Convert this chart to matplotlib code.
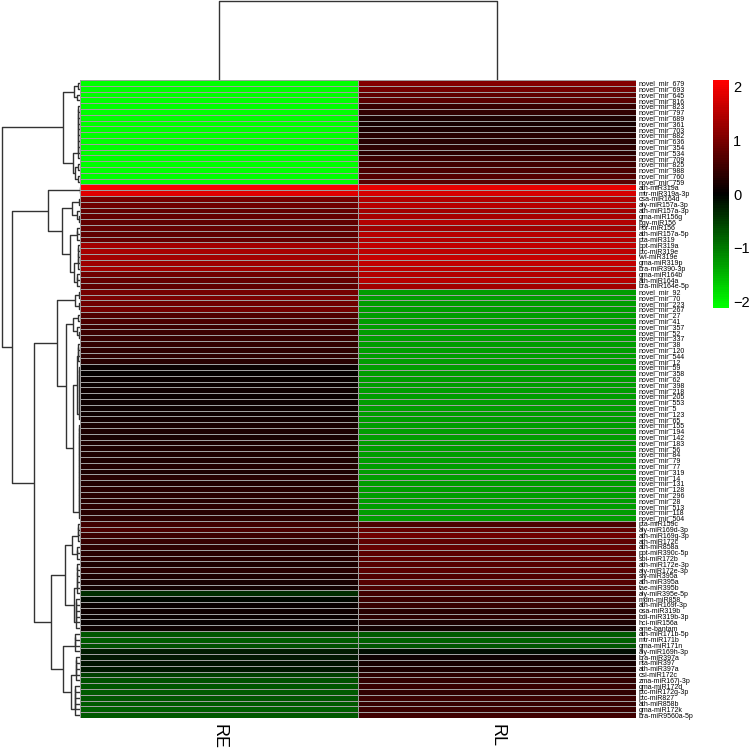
import numpy as np
import matplotlib
matplotlib.use("Agg")
import matplotlib.pyplot as plt
from matplotlib.colors import LinearSegmentedColormap

plt.rcParams["font.family"] = ["Liberation Sans", "DejaVu Sans"]

# ── data ─────────────────────────────────────────────
samples = ["RE", "RL"]

row_labels = [
    # block 1
    "novel_mir_679", "novel_mir_693", "novel_mir_645", "novel_mir_816", "novel_mir_823",
    "novel_mir_797", "novel_mir_689", "novel_mir_361", "novel_mir_703", "novel_mir_882",
    "novel_mir_636", "novel_mir_354", "novel_mir_534", "novel_mir_709", "novel_mir_825",
    "novel_mir_988", "novel_mir_760", "novel_mir_759",
    # block 2
    "ath-miR319a", "mtr-miR319a-3p", "csa-miR164d", "aly-miR157a-3p", "ath-miR157a-3p",
    "gma-miR156g", "bgy-miR156", "hbr-miR156", "ath-miR157a-5p", "pta-miR319",
    "ppt-miR319a", "ptc-miR319e", "vvi-miR319e", "gma-miR319p", "bra-miR390-3p",
    "gma-miR164b", "ath-miR164a", "bra-miR164e-5p",
    # block 3
    "novel_mir_92", "novel_mir_70", "novel_mir_223", "novel_mir_267", "novel_mir_27",
    "novel_mir_41", "novel_mir_357", "novel_mir_52", "novel_mir_337", "novel_mir_38",
    "novel_mir_120", "novel_mir_544", "novel_mir_12", "novel_mir_59", "novel_mir_358",
    "novel_mir_62", "novel_mir_398", "novel_mir_218", "novel_mir_205", "novel_mir_553",
    "novel_mir_5", "novel_mir_123", "novel_mir_65", "novel_mir_155", "novel_mir_194",
    "novel_mir_142", "novel_mir_183", "novel_mir_56", "novel_mir_84", "novel_mir_79",
    "novel_mir_77", "novel_mir_319", "novel_mir_14", "novel_mir_131", "novel_mir_128",
    "novel_mir_296", "novel_mir_28", "novel_mir_513", "novel_mir_118", "novel_mir_504",
    # block 4
    "pta-miR159c", "aly-miR169d-3p", "ath-miR169g-3p", "ath-miR172c", "ath-miR858a",
    "ppt-miR390c-5p", "sbi-miR172b", "ath-miR172e-3p", "aly-miR172e-3p", "sly-miR395a",
    "ath-miR395a", "tae-miR395b", "aly-miR395e-5p", "mdm-miR858", "ath-miR169f-3p",
    "osa-miR319b", "bdi-miR319b-3p", "hci-miR156a", "ame-bantam", "ath-miR171b-5p",
    "mtr-miR171b", "gma-miR171n", "aly-miR169h-3p", "bra-miR397a", "nta-miR397",
    "ath-miR397a", "csi-miR172c", "zma-miR167j-3p", "gma-miR172d", "ptc-miR172g-3p",
    "ptc-miR827", "ath-miR858b", "gma-miR172k", "bra-miR9560a-5p",
]

re_values = [
    # block 1
    -2.1, -2.1, -2.1, -2.1, -2.1, -2.1, -2.1, -2.1, -2.1, -2.1,
    -2.1, -2.1, -2.1, -2.1, -2.1, -2.1, -2.1, -2.1,
    # block 2
    2.05, 1.85, 0.95, 0.9, 0.85, 0.85, 0.8, 0.85, 0.8, 0.85,
    1.35, 1.4, 1.35, 1.3, 1.35, 0.9, 0.85, 0.8,
    # block 3
    0.95, 1.0, 0.9, 0.95, 0.65, 0.6, 0.5, 0.48, 0.45, 0.4,
    0.35, 0.35, 0.3, 0.05, 0.02, 0.08, 0.05, 0.1, 0.06, 0.1,
    0.12, 0.1, 0.15, 0.2, 0.22, 0.2, 0.25, 0.22, 0.25, 0.25,
    0.28, 0.25, 0.3, 0.28, 0.3, 0.32, 0.3, 0.35, 0.3, 0.35,
    # block 4
    0.55, 0.6, 0.5, 0.45, 0.35, 0.3, 0.3, 0.25, 0.3, 0.25,
    0.2, 0.15, -0.35, -0.05, 0.05, 0.1, 0.08, 0.05, 0.1, -0.7,
    -0.75, -0.65, -0.25, -0.2, -0.15, -0.2, -0.55, -0.65, -0.7, -0.75,
    -0.7, -0.75, -0.8, -0.75,
]

rl_values = [
    # block 1
    1.1, 0.95, 0.8, 0.75, 0.45, 0.4, 0.25, 0.2, 0.22, 0.3,
    0.32, 0.35, 0.38, 0.5, 0.55, 0.6, 0.7, 0.75,
    # block 2
    1.95, 1.75, 1.45, 1.5, 1.35, 1.4, 1.45, 1.3, 1.5, 1.45,
    1.6, 1.55, 1.65, 1.6, 1.55, 1.45, 1.5, 1.35,
    # block 3
    -1.3, -1.3, -1.3, -1.3, -1.3, -1.3, -1.3, -1.3, -1.3, -1.3,
    -1.3, -1.3, -1.3, -1.3, -1.3, -1.3, -1.3, -1.3, -1.3, -1.3,
    -1.3, -1.3, -1.3, -1.3, -1.3, -1.3, -1.3, -1.3, -1.3, -1.3,
    -1.3, -1.3, -1.3, -1.3, -1.3, -1.3, -1.3, -1.3, -1.3, -1.3,
    # block 4
    0.6, 0.85, 0.9, 0.8, 0.85, 0.75, 0.8, 0.7, 0.75, 0.65,
    0.7, 0.6, 0.55, 0.5, 0.45, 0.3, 0.35, 0.25, 0.15, -0.75,
    -0.8, -0.7, -0.1, 0.1, 0.2, 0.25, 0.35, 0.4, 0.45, 0.4,
    0.5, 0.45, 0.5, 0.55,
]

cbar_ticks = [-2, -1, 0, 1, 2]


# ── row tree (merge height, left, right); ints are rows ──
def chain(a, b, h):
    node = a
    for i in range(a + 1, b):
        node = (h, node, i)
    return node


g1 = (17, (6, (2, 0, 1), (3, 2, 3)),
      (7, chain(4, 14, 2), (5, (2, 14, 15), (2, 16, 17))))
g2 = (32, (0.5, 18, 19),
      (18, (8, (1, 20, 21), (3, 22, (1, 23, 24))),
       (10, chain(25, 28, 3), (6, chain(28, 33, 2), chain(33, 36, 3)))))
g3 = (23, (5, (1, 36, 37), (1, 38, 39)),
      (14, (7, (2, 40, 41), (3, 42, (1, 43, 44))),
       (7, (3, chain(45, 49, 2), chain(49, 59, 1)), chain(59, 76, 1))))
g4 = (29, (15, (8, chain(76, 80, 2), chain(80, 83, 3)),
           (6, chain(83, 89, 3), chain(89, 95, 4))),
      (17, chain(95, 99, 5), (9, chain(99, 104, 4), chain(104, 110, 5))))
row_tree = (78, g1, (68, g2, (46, g3, g4)))
col_tree = (79, 0, 1)


def draw_tree(ax, node, horizontal):
    # returns (leaf-axis position, height) of node
    if isinstance(node, int):
        return node + 0.5, 0
    h, left, right = node
    p1, h1 = draw_tree(ax, left, horizontal)
    p2, h2 = draw_tree(ax, right, horizontal)
    hs = [h1, h, h, h2]
    ps = [p1, p1, p2, p2]
    if horizontal:
        ax.plot(hs, ps, color="#333333", lw=1.0, solid_capstyle="butt")
    else:
        ax.plot(ps, hs, color="#333333", lw=1.0, solid_capstyle="butt")
    return (p1 + p2) / 2, h


data = np.column_stack([re_values, rl_values])
n_rows = len(row_labels)

cmap = LinearSegmentedColormap.from_list("gbr", ["#00FF00", "#000000", "#FF0000"], N=100)

W, H = 750, 752
fig = plt.figure(figsize=(7.5, 7.52), dpi=100)

hm_l, hm_r, hm_t, hm_b = 80, 636, 80, 718
ax = fig.add_axes([hm_l / W, 1 - hm_b / H, (hm_r - hm_l) / W, (hm_b - hm_t) / H])
mesh = ax.pcolormesh(data, cmap=cmap, vmin=-2.13, vmax=2.13,
                     edgecolors="#a0a0a0", linewidth=0.5)
ax.set_ylim(n_rows, 0)
ax.set_xlim(0, 2)
ax.yaxis.tick_right()
ax.set_yticks(np.arange(n_rows) + 0.5)
ax.set_yticklabels(row_labels, fontsize=5.0)
ax.set_xticks([0.5, 1.5])
ax.set_xticklabels(samples, fontsize=13, rotation=270, va="top")
ax.tick_params(length=0, pad=2)
ax.tick_params(axis="x", pad=4)
for s in ax.spines.values():
    s.set_visible(False)

# left dendrogram
axl = fig.add_axes([0, 1 - hm_b / H, hm_l / W, (hm_b - hm_t) / H])
draw_tree(axl, row_tree, True)
axl.set_xlim(80, 0)
axl.set_ylim(n_rows, 0)
axl.set_axis_off()

# top dendrogram
axt = fig.add_axes([hm_l / W, 1 - hm_t / H, (hm_r - hm_l) / W, hm_t / H])
draw_tree(axt, col_tree, False)
axt.set_xlim(0, 2)
axt.set_ylim(0, 80)
axt.set_axis_off()

# colour key
cax = fig.add_axes([713 / W, 1 - 308 / H, 16 / W, 228 / H])
cb = fig.colorbar(mesh, cax=cax, ticks=cbar_ticks)
cb.outline.set_visible(False)
cax.tick_params(length=0, labelsize=10.5, pad=3)

plt.savefig("out.png", dpi=100, facecolor="white")
plt.close()
